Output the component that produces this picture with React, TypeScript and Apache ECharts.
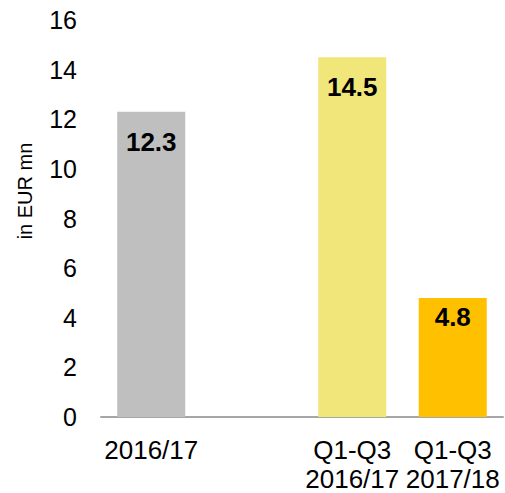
import React, { useEffect, useRef } from "react";
import * as echarts from "echarts";

const categories = ["2016/17", "", "Q1-Q3\n2016/17", "Q1-Q3\n2017/18"];
const values: (number | null)[] = [12.3, null, 14.5, 4.8];
const barColors = ["#BFBFBF", "#BFBFBF", "#F0E67A", "#FFC000"];
const yTicks = { min: 0, max: 16, interval: 2 };
const yAxisTitle = "in EUR mn";

const FONT = "'Liberation Sans', Arial, Helvetica, sans-serif";

export default function App() {
  const ref = useRef<HTMLDivElement>(null);
  useEffect(() => {
    if (!ref.current) return;
    const chart = echarts.init(ref.current, null, { renderer: "svg" });
    const data = values.map((v, i) => ({
      value: v,
      itemStyle: { color: barColors[i] },
      label: { distance: v !== null && v < 8 ? 6 : 17 },
    }));
    chart.setOption({
      animation: false,
      grid: { left: 101, right: 2, top: 20, bottom: 76, containLabel: false },
      xAxis: {
        type: "category",
        data: categories,
        axisLine: { show: true, lineStyle: { color: "#A6A6A6", width: 2 } },
        axisTick: { show: false },
        axisLabel: {
          color: "#000",
          fontSize: 26,
          fontFamily: FONT,
          lineHeight: 29,
          margin: 18,
          interval: 0,
        },
      },
      yAxis: {
        type: "value",
        min: yTicks.min,
        max: yTicks.max,
        interval: yTicks.interval,
        axisLine: { show: false },
        axisTick: { show: false },
        splitLine: { show: false },
        axisLabel: { color: "#000", fontSize: 25, fontFamily: FONT, margin: 24 },
      },
      graphic: [
        {
          type: "text",
          x: 25,
          y: 191,
          rotation: Math.PI / 2,
          style: {
            text: yAxisTitle,
            fontSize: 20,
            fontFamily: FONT,
            fill: "#000",
            align: "center",
            verticalAlign: "middle",
          },
        },
      ],
      series: [
        {
          type: "bar",
          data,
          barWidth: "67.7%",
          label: {
            show: true,
            position: "insideTop",
            color: "#000",
            fontSize: 26,
            fontWeight: "bold",
            fontFamily: FONT,
          },
        },
      ],
    });
    return () => chart.dispose();
  }, []);
  return (
    <div
      ref={ref}
      style={{ position: "absolute", left: 0, top: 0, width: 505, height: 493 }}
    />
  );
}
